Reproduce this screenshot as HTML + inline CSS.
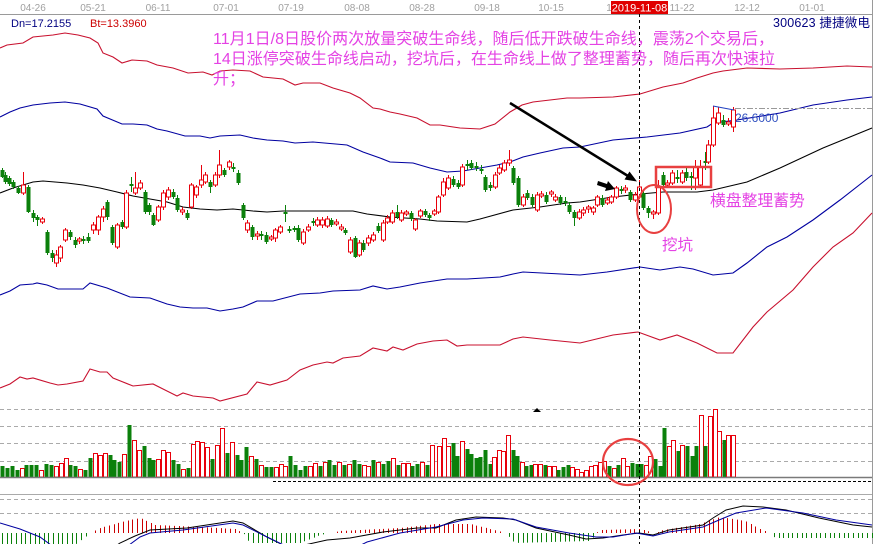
<!DOCTYPE html>
<html><head><meta charset="utf-8">
<style>
html,body{margin:0;padding:0;background:#fff;overflow:hidden;}
svg{display:block;}
text{font-family:"Liberation Sans","Noto Sans CJK SC",sans-serif;}
</style></head><body>
<svg id="c" width="876" height="544" viewBox="0 0 876 544" xmlns="http://www.w3.org/2000/svg">
<rect width="876" height="544" fill="#fff"/>
<!-- top axis -->
<line x1="0" y1="14.5" x2="872" y2="14.5" stroke="#9a9a9a"/>
<line x1="872.5" y1="0" x2="872.5" y2="544" stroke="#9a9a9a"/>
<g font-size="10" fill="#a0a0a0" text-anchor="middle">
<text x="33" y="11">04-26</text>
<text x="93" y="11">05-21</text>
<text x="158" y="11">06-11</text>
<text x="226" y="11">07-01</text>
<text x="291" y="11">07-19</text>
<text x="357" y="11">08-08</text>
<text x="422" y="11">08-28</text>
<text x="487" y="11">09-18</text>
<text x="551" y="11">10-15</text>
<text x="682" y="11">11-22</text>
<text x="747" y="11">12-12</text>
<text x="812" y="11">01-01</text>
<text x="609" y="11">1</text>
</g>
<rect x="611" y="1" width="57" height="13" fill="#e00000"/>
<text x="639.5" y="11.5" fill="#fff" font-size="11" text-anchor="middle">2019-11-08</text>

<text x="11" y="27" font-size="11" fill="#000080">Dn=17.2155</text>
<text x="90" y="27" font-size="11" fill="#cc0000">Bt=13.3960</text>
<text x="870" y="27" font-size="12.5" fill="#000080" text-anchor="end" textLength="97">300623 捷捷微电</text>

<!-- bands -->
<g fill="none" stroke-width="1.1">
<polyline stroke="#c8102e" points="0,48 7,45 23,43 33,37 53,35 65,33 78,35 90,38 98,43 103,53 113,57 122,63 132,60 147,61 157,65 173,68 188,73 203,72 212,75 220,71 233,70 250,71 263,77 283,79 295,85 303,83 320,83 333,88 350,93 360,98 373,108 380,109 390,112 400,114 417,118 430,125 440,125 460,128 480,129 495,124 510,112 522,105 533,102 550,100 567,98 580,98 613,97 640,94 663,87 683,83 697,78 713,73 723,71 747,68 780,69 813,68 847,66 872,67"/>
<polyline stroke="#0000a0" points="0,117 10,112 20,108 33,105 50,103 65,102 80,104 97,109 103,116 122,124 133,124 147,125 157,129 167,131 185,136 200,136 210,138 220,136 240,135 253,138 267,140 283,141 295,143 313,142 347,145 363,152 380,158 390,162 413,163 430,168 447,172 463,171 480,168 497,165 510,162 523,157 540,153 563,148 580,147 613,140 647,137 680,133 707,127 713,123 737,120 780,113 813,105 847,100 872,97"/>
<polyline stroke="#000" points="0,193 13,188 33,182 43,181 67,183 83,185 100,188 117,192 133,196 150,199 167,202 183,207 200,209 217,210 233,209 253,211 267,212 283,211 313,211 353,211 367,214 390,217 420,219 437,221 467,222 480,219 513,210 540,207 567,203 580,202 613,197 640,194 663,192 697,192 713,190 747,182 780,168 823,148 872,128"/>
<polyline stroke="#0000a0" points="0,295 10,291 20,285 33,284 37,283 47,285 58,289 83,289 90,283 107,288 130,297 150,298 167,304 180,307 193,308 207,308 220,311 233,309 243,307 257,301 273,301 300,294 320,293 333,291 360,290 373,286 387,289 400,287 420,283 447,279 467,279 500,277 513,274 523,272 580,275 607,272 640,267 660,270 680,267 693,269 713,275 733,273 747,263 767,247 787,237 813,220 840,200 872,175"/>
<polyline stroke="#c8102e" points="0,388 10,384 20,377 27,379 33,378 50,383 58,385 67,384 83,381 90,369 100,372 107,372 113,378 133,386 153,384 167,391 177,396 183,393 193,396 213,398 220,401 247,394 257,382 270,385 287,380 300,370 313,365 327,362 333,363 343,358 360,356 373,348 387,351 393,347 403,350 417,344 433,341 447,340 457,346 467,345 500,345 513,339 523,337 550,340 580,343 613,335 638,332 660,340 677,335 697,343 717,353 733,353 753,327 767,312 793,290 813,267 833,247 853,233 872,213"/>
</g>

<!-- volume panel grid -->
<g stroke="#aaa" stroke-dasharray="4,3">
<line x1="0" y1="409.5" x2="872" y2="409.5"/>
<line x1="0" y1="426.5" x2="872" y2="426.5"/>
<line x1="0" y1="443.5" x2="872" y2="443.5"/>
<line x1="0" y1="461.5" x2="872" y2="461.5"/>
<line x1="0" y1="499.5" x2="872" y2="499.5"/>
<line x1="0" y1="513.5" x2="872" y2="513.5"/>
</g>
<line x1="0" y1="494.5" x2="872" y2="494.5" stroke="#aaa"/>
<polygon points="533,412 537,408 541,412" fill="#000"/>

<g id="candles"></g>
<g id="vols"></g>
<line x1="0" y1="477.5" x2="872" y2="477.5" stroke="#7a7a7a" stroke-width="1.5"/>
<line x1="273" y1="481.5" x2="872" y2="481.5" stroke="#000" stroke-dasharray="3,2"/>
<g id="hist"></g>

<!-- MACD lines -->
<g fill="none" stroke-width="1">
<polyline stroke="#000" points="110,550 120,543 135,536 150,530 187,528 233,521 243,523 267,537 285,546 300,546 327,540 350,538 383,532 417,528 436,528 456,520 476,517 503,518 516,520 536,528 569,535 586,539 603,538 623,535 639,533 653,535 669,530 703,525 713,518 726,510 743,506 763,507 786,510 819,518 853,525 872,527"/>
<polyline stroke="#0000a0" points="0,523 20,529 40,537 55,548 125,548 140,537 150,533 183,530 233,523 243,525 267,537 290,548 355,548 367,542 400,533 436,527 463,520 483,518 513,519 536,527 569,533 596,537 613,537 636,533 653,536 669,532 703,527 719,520 736,513 766,508 803,513 836,520 872,525"/>
</g>

<!-- dashed vertical -->
<line x1="639.5" y1="14" x2="639.5" y2="544" stroke="#000" stroke-dasharray="3,3"/>

<!-- high marker -->
<line x1="735" y1="108.5" x2="872" y2="108.5" stroke="#999" stroke-dasharray="6,2,2,2"/>
<line x1="713" y1="106" x2="734" y2="110" stroke="#2040c0"/>
<text x="735" y="122" font-size="12" fill="#3050c0">26.6000</text>

<!-- annotations -->
<g fill="#e442e4" font-size="16">
<text x="213" y="44" textLength="561">11月1日/8日股价两次放量突破生命线，随后低开跌破生命线，震荡2个交易后，</text>
<text x="213" y="64" textLength="562">14日涨停突破生命线启动，挖坑后，在生命线上做了整理蓄势，随后再次快速拉</text>
<text x="213" y="84">升；</text>
<text x="662" y="250" font-size="15.5">挖坑</text>
<text x="710" y="206" font-size="15.8">横盘整理蓄势</text>
</g>
<line x1="510" y1="103" x2="628" y2="176" stroke="#000" stroke-width="2.5"/>
<polygon points="637,181.5 624.5,179.5 629.5,171.5" fill="#000"/>
<polygon points="598,181 607,184 608,181 615,189 605,191 606,188 597,185" fill="#000"/>
<rect x="656" y="167" width="55" height="20" fill="none" stroke="#e84040" stroke-width="2.5"/>
<ellipse cx="654" cy="209" rx="17" ry="24" fill="none" stroke="#e84040" stroke-width="2"/>
<ellipse cx="628" cy="462" rx="25" ry="23" fill="none" stroke="#e84040" stroke-width="2.2"/>
</svg>
<script>
(function(){
var S='http://www.w3.org/2000/svg';
function el(t,a,p){var e=document.createElementNS(S,t);for(var k in a)e.setAttribute(k,a[k]);p.appendChild(e);return e;}
var RED='#e8000b',GRN='#0b800b';
var C=[
[2,170,177,168,178,0],[5,175,182,172,184,0],[9,178,184,176,186,0],[13,182,187,180,189,0],[18,188,193,186,194,0],
[23,185,193,172,195,1],[28,187,212,185,213,0],[33,213,218,210,222,0],[37,217,220,215,226,0],[42,219,222,217,224,1],
[47,232,253,230,255,0],[52,253,258,250,262,0],[56,255,263,250,267,1],[60,247,258,245,262,1],[65,230,240,228,242,1],
[70,232,237,230,240,0],[75,240,245,237,248,0],[79,239,241,237,244,1],[83,239,241,236,244,0],[88,237,241,233,243,0],
[93,225,230,222,234,1],[98,217,230,215,235,1],[103,209,217,206,222,1],[107,202,217,200,220,0],[112,227,243,225,245,0],
[117,225,247,223,249,1],[122,222,227,220,229,0],[126,193,227,190,229,1],[131,184,186,177,192,0],[135,188,193,172,195,1],
[140,183,188,180,190,1],[145,192,212,190,214,0],[149,205,212,203,215,0],[153,215,225,213,226,0],[158,207,220,205,222,1],
[163,193,207,190,210,1],[168,190,197,187,200,1],[173,192,197,189,199,0],[177,198,210,195,212,0],[182,210,212,207,215,1],
[187,213,218,210,220,0],[191,185,207,183,209,1],[196,187,195,185,198,1],[201,180,185,165,188,1],[205,175,182,172,184,1],
[210,182,187,180,193,0],[215,175,185,172,187,1],[219,165,175,150,178,1],[224,170,175,168,177,0],[229,162,167,160,170,1],
[233,167,169,163,172,0],[238,173,183,170,185,0],[243,205,218,203,220,0],[247,223,230,220,233,1],[252,227,237,225,240,0],
[257,234,236,231,240,1],[261,234,236,231,240,0],[266,235,242,232,244,0],[271,237,239,235,241,1],[275,230,238,228,242,1],
[280,227,232,225,234,1],[285,212,214,205,222,0],[289,229,231,226,233,0],[294,228,230,226,232,0],[298,228,240,225,242,0],
[303,232,243,229,245,1],[308,227,230,224,232,1],[313,221,223,218,226,0],[317,220,225,217,227,1],[322,220,225,217,228,1],
[327,219,226,216,228,1],[331,220,225,218,227,0],[336,222,224,219,226,1],[341,227,229,224,231,1],[345,230,233,228,235,0],
[350,240,252,237,254,1],[355,238,257,236,258,0],[359,243,255,240,257,1],[363,243,250,240,252,0],[368,238,243,235,246,1],
[373,235,240,232,242,1],[378,226,231,223,233,0],[383,223,240,220,242,1],[387,218,222,215,224,1],[392,213,222,210,224,1],
[397,212,217,205,219,0],[401,213,220,210,222,1],[406,212,214,210,216,1],[411,213,219,211,221,0],[415,220,229,218,231,1],
[420,211,216,209,218,1],[425,211,215,209,217,0],[429,215,218,213,221,0],[434,211,214,209,216,1],[438,197,212,195,214,1],
[443,182,195,178,197,1],[448,178,188,175,190,1],[453,179,185,176,187,0],[458,183,187,180,189,0],[462,167,185,164,187,1],
[467,164,166,160,170,0],[471,163,168,160,170,0],[476,166,168,162,171,0],[481,169,171,165,174,0],[485,177,190,175,192,0],
[490,185,188,182,191,0],[495,175,187,172,189,1],[499,168,173,165,175,1],[504,163,170,160,172,1],[509,160,163,150,166,1],
[513,168,183,166,185,0],[518,178,205,176,207,0],[523,197,205,194,207,1],[527,193,198,190,200,0],[532,197,205,194,207,0],
[537,195,210,192,212,1],[541,194,196,191,198,1],[546,195,202,192,204,0],[551,192,194,190,197,1],[555,197,200,194,202,1],
[560,197,203,195,205,0],[565,201,203,197,206,0],[569,205,212,202,214,0],[574,212,218,210,226,0],[579,212,218,209,220,1],
[583,210,213,207,216,1],[588,207,209,205,213,1],[593,208,212,206,215,1],[597,197,205,195,207,1],[602,198,205,195,207,0],
[607,200,203,197,205,1],[611,197,202,195,204,1],[616,188,197,186,199,1],[621,189,191,186,194,0],[625,188,190,185,193,1],
[630,192,200,190,202,0],[635,195,200,192,202,1],[639,187,197,180,199,1],[643,193,208,191,210,0],[648,208,213,206,218,0],
[653,212,214,210,219,1],[658,187,213,180,215,1],[663,175,185,172,187,0],[667,183,185,180,188,1],[672,173,183,170,185,1],
[677,177,179,170,183,0],[682,173,182,170,184,1],[686,172,178,168,181,0],[691,176,178,172,190,0],[695,167,178,160,190,1],
[700,167,185,160,187,1],[705,161,163,152,170,0],[708,145,162,140,164,1],[713,118,145,106,147,1],[718,113,123,107,125,1],
[723,120,125,115,127,0],[728,122,124,118,126,1],[733,110,127,107,132,1]
];
var gC=document.getElementById('candles');
C.forEach(function(c){
 var x=c[0],t=c[1],b=c[2],h=c[3],l=c[4],u=c[5];var bh=Math.max(b-t,1);var wx=x+0.5;
 if(u){
  el('line',{x1:wx,y1:h,x2:wx,y2:t,stroke:RED},gC);
  el('line',{x1:wx,y1:t+bh,x2:wx,y2:l,stroke:RED},gC);
  el('rect',{x:x-1.5,y:t,width:4,height:bh,fill:'#fff',stroke:RED,'stroke-width':1},gC);
 }else{
  el('line',{x1:wx,y1:h,x2:wx,y2:l,stroke:GRN},gC);
  el('rect',{x:x-1.5,y:t,width:4,height:bh,fill:GRN},gC);
 }
});
var V1=[-11,-9,-11,-7,9,-12,-12,-12,7,-13,-12,11,14,19,-12,-11,8,-7,-19,24,22,24,-22,-17,-15,23,-52,37,27,-31,-19,-17,18,27,25,-17,-13,8,-9,33,36,35,30,-18,32,49,-24,35,-22,-17,-30,21,-18,12,-10,-10,10,13,11,-21,-12,-7,-11,11,14,-11,15,-17,-12,15,-12,13,-17,-13,12,11,-17,15,-13,-16,19,-12,14,14,-11,-13,15,-12,32];
var V2=[31,39,31,-34,-21,36,-28,-23,-19,-20,-27,-13,20,27,26,42,-27,-21,15,-11,-12,13,13,-12,11,11,-7,-10,-12,10,8,5,7,11,12,15,16,-11,9,-12,19,11,-14,-13,-13,12,21,-18,-11,-49,31,37,-26,32,-31,-21,-31,62,-31,61,68,46,-37,42,42];
var gV=document.getElementById('vols');
function drawV(arr,x0,x1){
 var sp=(x1-x0)/(arr.length-1);
 arr.forEach(function(v,i){
  var x=Math.round(x0+i*sp);var h=Math.abs(v);var top=477-h;
  if(v>0){el('rect',{x:x-1.5,y:top+0.5,width:4,height:h-0.5,fill:'#fff',stroke:RED},gV);}
  else{el('rect',{x:x-1.5,y:top,width:4,height:h,fill:GRN},gV);}
 });
}
drawV(V1,2,432);drawV(V2,439,733);
var A=[[0,-12],[75,-12],[90,0],[100,5],[125,12],[140,15],[155,8],[200,6],[235,4],[243,0],[250,-10],[300,-10],[320,-2],[340,2],[400,5],[436,9],[470,9],[490,4],[505,0],[515,-10],[590,-8],[596,0],[600,3],[640,4],[655,0],[663,3],[700,9],[720,16],[745,12],[760,4],[769,0],[775,-5],[873,-5]];
function hv(x){for(var i=0;i<A.length-1;i++){if(x>=A[i][0]&&x<=A[i+1][0]){var f=(x-A[i][0])/(A[i+1][0]-A[i][0]);return A[i][1]+f*(A[i+1][1]-A[i][1]);}}return 0;}
var gH=document.getElementById('hist');
for(var x=2;x<=872;x+=4.65){
 var h=hv(x);var xx=Math.round(x)+0.5;
 if(Math.abs(h)<0.8)continue;
 el('line',{x1:xx,y1:533,x2:xx,y2:533-h,stroke:h>0?'#cc0000':GRN},gH);
}
})();
</script>
</body></html>
